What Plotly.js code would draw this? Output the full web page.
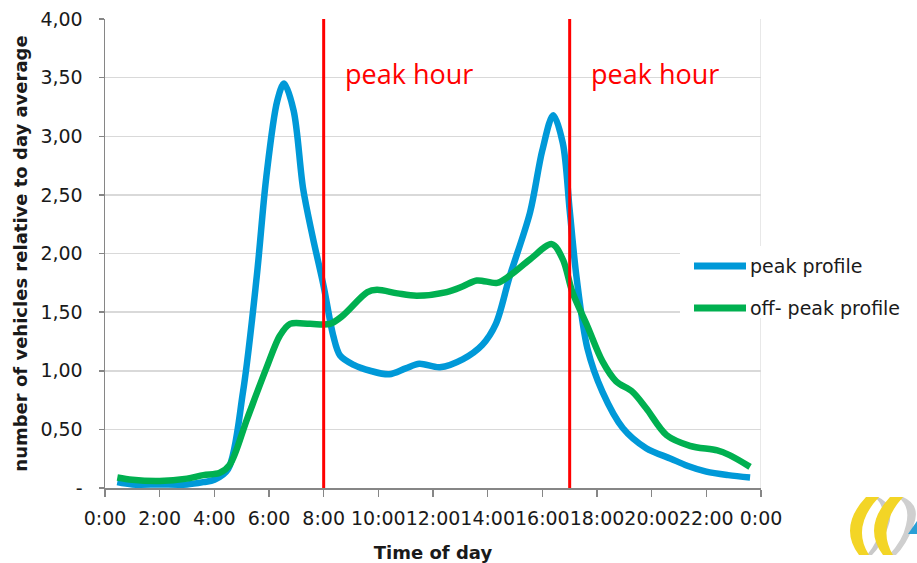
<!DOCTYPE html>
<html>
<head>
<meta charset="utf-8">
<script src="https://cdn.plot.ly/plotly-3.0.1.min.js"></script>
<style>html,body{margin:0;padding:0;background:#fff;}#chart{width:917px;height:563px;}</style>
</head>
<body>
<div id="chart"></div>
<script>
// ---- data ----
const peakHours = [0.45, 1.0, 2.0, 3.0, 3.6, 4.0, 4.5, 5.05, 5.55, 5.9, 6.3, 6.55, 6.9, 7.25, 7.6, 8.0, 8.35, 8.6, 9.1, 9.7, 10.4, 11.0, 11.5, 12.25, 13.1, 13.8, 14.3, 14.8, 15.55, 16.0, 16.4, 16.75, 17.0, 17.25, 17.65, 18.2, 18.95, 19.8, 20.7, 21.3, 22.0, 22.8, 23.6];
const peakValues = [0.05, 0.03, 0.03, 0.03, 0.05, 0.07, 0.16, 0.82, 1.80, 2.65, 3.30, 3.45, 3.22, 2.55, 2.14, 1.72, 1.30, 1.13, 1.05, 1.00, 0.97, 1.02, 1.06, 1.03, 1.10, 1.22, 1.40, 1.80, 2.35, 2.88, 3.18, 2.94, 2.37, 1.80, 1.19, 0.82, 0.51, 0.34, 0.25, 0.19, 0.14, 0.11, 0.09];
const offPeakHours = [0.45, 1.0, 2.0, 3.0, 3.6, 4.2, 4.57, 5.2, 5.9, 6.4, 6.77, 7.5, 8.23, 8.7, 9.6, 9.95, 10.7, 11.4, 12.5, 13.1, 13.6, 14.35, 14.8, 15.55, 16.35, 16.75, 17.1, 17.65, 18.2, 18.7, 19.3, 19.8, 20.55, 21.4, 22.4, 22.85, 23.6];
const offPeakValues = [0.09, 0.07, 0.06, 0.08, 0.11, 0.13, 0.20, 0.59, 1.02, 1.30, 1.40, 1.40, 1.40, 1.47, 1.67, 1.69, 1.66, 1.64, 1.67, 1.72, 1.77, 1.75, 1.81, 1.95, 2.08, 1.95, 1.67, 1.38, 1.08, 0.91, 0.82, 0.68, 0.45, 0.36, 0.32, 0.28, 0.18];
const seriesNames = ["peak profile", "off- peak profile"];
const peakHourMarkers = [8, 17];
const peakHourLabel = "peak hour";
const xTickVals = [0, 2, 4, 6, 8, 10, 12, 14, 16, 18, 20, 22, 24];
const xTickText = ["0:00", "2:00", "4:00", "6:00", "8:00", "10:00", "12:00", "14:00", "16:00", "18:00", "20:00", "22:00", "0:00"];
const yTickVals = [0, 0.5, 1, 1.5, 2, 2.5, 3, 3.5, 4];
const yTickText = ["-", "0,50", "1,00", "1,50", "2,00", "2,50", "3,00", "3,50", "4,00"];
const xTitle = "Time of day";
const yTitle = "number of vehicles relative to day average";

// ---- layout helpers ----
const W = 917, Hh = 563;
const L = 105, R = 761, T = 19, B = 488;
const px = x => (x - L) / (R - L);
const py = y => (B - y) / (B - T);
function path(cmds) {
  return cmds.map(c => {
    const op = c[0]; const nums = c.slice(1);
    let out = op;
    for (let i = 0; i < nums.length; i += 2) out += " " + px(nums[i]).toFixed(5) + "," + py(nums[i+1]).toFixed(5);
    return out;
  }).join(" ") + " Z";
}

const BLUE = "#0099d8", GREEN = "#00b050", RED = "#ff0000";
const FONT = "DejaVu Sans";
const TXT = "#1a1a1a";

const traces = [
  {x: peakHours, y: peakValues, name: seriesNames[0], type: "scatter", mode: "lines",
   line: {color: BLUE, width: 6.5, shape: "spline", smoothing: 0.9}, showlegend: false},
  {x: offPeakHours, y: offPeakValues, name: seriesNames[1], type: "scatter", mode: "lines",
   line: {color: GREEN, width: 6.5, shape: "spline", smoothing: 0.9}, showlegend: false}
];

const shapes = [];
shapes.push({type: "line", xref: "x", yref: "y", x0: 24, x1: 24, y0: 0, y1: 4, line: {color: "#d0d0d0", width: 1}, layer: "below"});
peakHourMarkers.forEach(h => shapes.push({type: "line", xref: "x", yref: "y", x0: h, x1: h, y0: 0, y1: 4, line: {color: RED, width: 3}}));
shapes.push({type: "rect", xref: "paper", yref: "paper", x0: px(680), x1: px(917), y0: py(318), y1: py(246), fillcolor: "#ffffff", line: {width: 0}});
const legRows = [266, 308];
[BLUE, GREEN].forEach((c, i) => shapes.push({type: "line", xref: "paper", yref: "paper", x0: px(694), x1: px(746), y0: py(legRows[i]), y1: py(legRows[i]), line: {color: c, width: 7}}));
// logo (decorative)
shapes.push({type: "path", xref: "paper", yref: "paper", layer: "above", fillcolor: "#c9c9c9", line: {width: 0},
  path: path([["M", 878, 497], ["Q", 896, 505, 888, 527], ["Q", 882, 545, 872, 555], ["L", 867, 555], ["Q", 879, 540, 882, 525], ["Q", 886, 505, 874, 497]])});
shapes.push({type: "path", xref: "paper", yref: "paper", layer: "above", fillcolor: "#cfcfcf", line: {width: 0},
  path: path([["M", 903, 497], ["Q", 922, 505, 913, 527], ["Q", 906, 545, 896, 555], ["L", 889, 555], ["Q", 903, 540, 906, 525], ["Q", 911, 505, 897, 497]])});
shapes.push({type: "path", xref: "paper", yref: "paper", layer: "above", fillcolor: "#f3d526", line: {width: 0},
  path: path([["M", 866, 497], ["L", 879, 497], ["Q", 851, 527, 869, 555], ["L", 859, 555], ["Q", 838, 527, 866, 497]])});
shapes.push({type: "path", xref: "paper", yref: "paper", layer: "above", fillcolor: "#f3d526", line: {width: 0},
  path: path([["M", 890, 497], ["L", 903, 497], ["Q", 876, 527, 893, 555], ["L", 883, 555], ["Q", 862, 527, 890, 497]])});
shapes.push({type: "path", xref: "paper", yref: "paper", layer: "above", fillcolor: "#2a9fd6", line: {width: 0},
  path: path([["M", 908, 534], ["L", 917, 521], ["L", 917, 534]])});

const annotations = [];
peakHourMarkers.forEach(h => annotations.push({xref: "x", yref: "paper", x: h, y: py(73), xanchor: "left", yanchor: "middle", xshift: 19,
  text: peakHourLabel, showarrow: false, font: {family: "Open Sans", size: 27, color: RED}}));
seriesNames.forEach((n, i) => annotations.push({xref: "paper", yref: "paper", x: px(748), y: py(legRows[i]), xanchor: "left", yanchor: "middle",
  text: n, showarrow: false, font: {family: FONT, size: 19, color: TXT}}));

const layout = {
  width: W, height: Hh,
  margin: {l: L, r: W - R, t: T, b: Hh - B, pad: 0},
  paper_bgcolor: "#ffffff", plot_bgcolor: "#ffffff",
  showlegend: false,
  font: {family: FONT, size: 18, color: TXT},
  xaxis: {range: [0, 24], tickvals: xTickVals, ticktext: xTickText, tickangle: 0, showgrid: false, zeroline: false,
    showline: true, linecolor: "#868686", linewidth: 1.5, ticks: "outside", ticklen: 7, tickcolor: "#868686", tickwidth: 1.5,
    ticklabelstandoff: 6,
    tickfont: {family: FONT, size: 19, color: TXT},
    title: {text: xTitle, font: {family: FONT, size: 18, color: TXT, weight: "bold"}, standoff: 18}},
  yaxis: {range: [0, 4], tickvals: yTickVals, ticktext: yTickText, showgrid: true, gridcolor: "#d9d9d9", gridwidth: 1.5, zeroline: false,
    showline: true, linecolor: "#868686", linewidth: 1.5, ticks: "outside", ticklen: 5, tickcolor: "#868686", tickwidth: 1.5,
    ticklabelstandoff: 12,
    tickfont: {family: FONT, size: 19, color: TXT},
    title: {text: yTitle, font: {family: FONT, size: 18, color: TXT, weight: "bold"}, standoff: 8}},
  shapes: shapes,
  annotations: annotations
};

Plotly.newPlot("chart", traces, layout, {displayModeBar: false, staticPlot: true});
</script>
</body>
</html>
